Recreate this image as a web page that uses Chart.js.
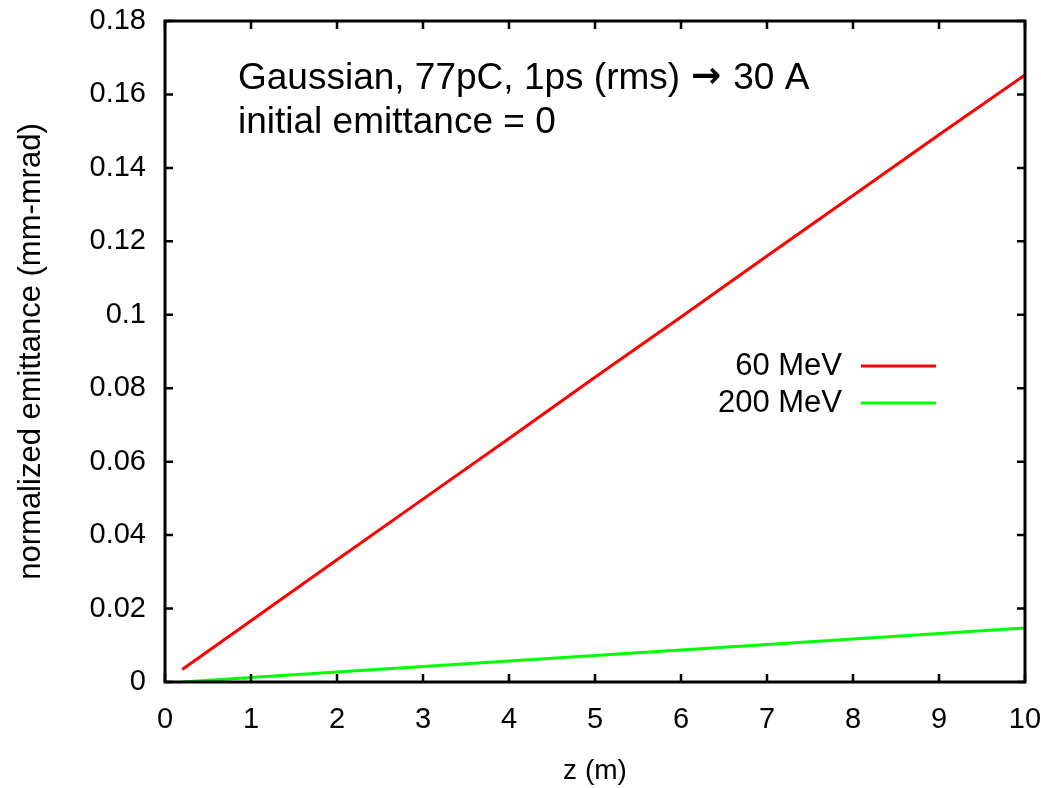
<!DOCTYPE html>
<html lang="en">
<head>
    <meta charset="UTF-8">
    <title>Emittance growth</title>
    <script src="https://cdn.jsdelivr.net/npm/chart.js"></script>
    <style>
        body {
            margin: 0;
            background: #ffffff;
        }
        .chart-container {
            width: 1041px;
            height: 788px;
        }
    </style>
</head>
<body>
    <div class="chart-container">
        <canvas id="emitChart"></canvas>
    </div>

    <script>
        // z positions (m)
        const zValues = [0.2, 1, 2, 3, 4, 5, 6, 7, 8, 9, 10];
        // normalized emittance (mm-mrad)
        const emit60 = [0.0034, 0.0167, 0.0333, 0.0498, 0.0663, 0.0830, 0.0994, 0.1160, 0.1325, 0.1490, 0.1653];
        const emit200 = [0.0000, 0.0012, 0.0027, 0.0042, 0.0057, 0.0072, 0.0087, 0.0102, 0.0117, 0.0132, 0.0147];
        const seriesNames = ["60 MeV", "200 MeV"];
        const noteParts = ["Gaussian, 77pC, 1ps (rms)", "\u2192", "30 A"];
        const noteLine2 = "initial emittance = 0";

        const FONT = "'Liberation Sans', Arial, Helvetica, sans-serif";

        function toPoints(xs, ys) {
            return xs.map((x, i) => ({ x: x, y: ys[i] }));
        }

        // drop the automatic edge padding so the plot box lands where we want
        function noEdgePadding(scale) {
            scale.paddingTop = 0;
            scale.paddingBottom = 0;
            scale.paddingLeft = 0;
            scale.paddingRight = 0;
        }

        // box + inward tick marks on all four sides, gnuplot style
        const framePlugin = {
            id: "frame",
            afterDatasetsDraw(chart) {
                const { ctx, chartArea: a, scales: { x, y } } = chart;
                const tl = 8;
                ctx.save();
                ctx.strokeStyle = "#000";
                ctx.lineWidth = 2.5;
                ctx.beginPath();
                x.ticks.forEach(t => {
                    const px = x.getPixelForValue(t.value);
                    ctx.moveTo(px, a.bottom);
                    ctx.lineTo(px, a.bottom - tl);
                    ctx.moveTo(px, a.top);
                    ctx.lineTo(px, a.top + tl);
                });
                y.ticks.forEach(t => {
                    const py = y.getPixelForValue(t.value);
                    ctx.moveTo(a.left, py);
                    ctx.lineTo(a.left + tl, py);
                    ctx.moveTo(a.right, py);
                    ctx.lineTo(a.right - tl, py);
                });
                ctx.stroke();
                ctx.lineWidth = 3;
                ctx.strokeRect(a.left, a.top, a.right - a.left, a.bottom - a.top);
                ctx.restore();
            }
        };

        // legend and annotation inside the plot
        const textPlugin = {
            id: "texts",
            afterDraw(chart) {
                const { ctx } = chart;
                ctx.save();
                ctx.fillStyle = "#000";
                ctx.textAlign = "left";
                ctx.textBaseline = "middle";

                let xx = 238;
                ctx.font = "37px " + FONT;
                ctx.fillText(noteParts[0], xx, 79);
                xx += ctx.measureText(noteParts[0]).width + 11;
                ctx.font = "bold 36px 'DejaVu Sans'";
                ctx.fillText(noteParts[1], xx, 78);
                xx += ctx.measureText(noteParts[1]).width + 12;
                ctx.font = "37px " + FONT;
                ctx.fillText(noteParts[2], xx, 79);
                ctx.fillText(noteLine2, 238, 123);

                ctx.font = "31px " + FONT;
                ctx.textAlign = "right";
                chart.data.datasets.forEach((ds, i) => {
                    const yy = 366 + i * 37;
                    ctx.fillStyle = "#000";
                    ctx.fillText(ds.label, 842, yy);
                    ctx.strokeStyle = ds.borderColor;
                    ctx.lineWidth = 3;
                    ctx.beginPath();
                    ctx.moveTo(861, yy);
                    ctx.lineTo(936, yy);
                    ctx.stroke();
                });
                ctx.restore();
            }
        };

        const ctx = document.getElementById("emitChart").getContext("2d");
        new Chart(ctx, {
            type: "line",
            data: {
                datasets: [{
                    label: seriesNames[0],
                    data: toPoints(zValues, emit60),
                    borderColor: "#ff0000",
                    borderWidth: 3,
                    pointRadius: 0,
                    tension: 0
                }, {
                    label: seriesNames[1],
                    data: toPoints(zValues, emit200),
                    borderColor: "#00ff00",
                    borderWidth: 3,
                    pointRadius: 0,
                    tension: 0
                }]
            },
            options: {
                responsive: true,
                maintainAspectRatio: false,
                animation: false,
                layout: { padding: { top: 21, right: 16, left: 0, bottom: 0 } },
                plugins: {
                    legend: { display: false },
                    tooltip: { enabled: false }
                },
                scales: {
                    x: {
                        type: "linear",
                        min: 0,
                        max: 10,
                        grid: { display: false, drawTicks: false },
                        border: { display: false },
                        ticks: {
                            stepSize: 1,
                            padding: 21,
                            color: "#000",
                            maxRotation: 0,
                            font: { family: FONT, size: 29 }
                        },
                        title: {
                            display: true,
                            text: "z (m)",
                            color: "#000",
                            padding: { top: 0, bottom: 0 },
                            font: { family: FONT, size: 28 }
                        },
                        afterFit(scale) {
                            scale.height = 106;
                            noEdgePadding(scale);
                        }
                    },
                    y: {
                        min: 0,
                        max: 0.18,
                        grid: { display: false, drawTicks: false },
                        border: { display: false },
                        ticks: {
                            stepSize: 0.02,
                            padding: 19,
                            color: "#000",
                            font: { family: FONT, size: 29 },
                            callback: v => String(+v.toFixed(2))
                        },
                        title: {
                            display: true,
                            text: "normalized emittance (mm-mrad)",
                            color: "#000",
                            padding: { top: 13, bottom: 0 },
                            font: { family: FONT, size: 31 }
                        },
                        afterFit(scale) {
                            scale.width = 165;
                            noEdgePadding(scale);
                        }
                    }
                }
            },
            plugins: [framePlugin, textPlugin]
        });
    </script>
</body>
</html>
